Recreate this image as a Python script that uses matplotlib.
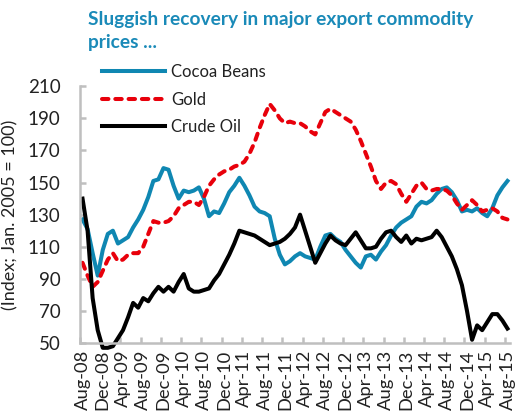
import matplotlib
matplotlib.use("Agg")
import matplotlib.pyplot as plt
import numpy as np

# monthly, Aug-08 .. Aug-15
months = ["Aug-08", "Sep-08", "Oct-08", "Nov-08", "Dec-08", "Jan-09", "Feb-09", "Mar-09", "Apr-09", "May-09",
          "Jun-09", "Jul-09", "Aug-09", "Sep-09", "Oct-09", "Nov-09", "Dec-09", "Jan-10", "Feb-10", "Mar-10",
          "Apr-10", "May-10", "Jun-10", "Jul-10", "Aug-10", "Sep-10", "Oct-10", "Nov-10", "Dec-10", "Jan-11",
          "Feb-11", "Mar-11", "Apr-11", "May-11", "Jun-11", "Jul-11", "Aug-11", "Sep-11", "Oct-11", "Nov-11",
          "Dec-11", "Jan-12", "Feb-12", "Mar-12", "Apr-12", "May-12", "Jun-12", "Jul-12", "Aug-12", "Sep-12",
          "Oct-12", "Nov-12", "Dec-12", "Jan-13", "Feb-13", "Mar-13", "Apr-13", "May-13", "Jun-13", "Jul-13",
          "Aug-13", "Sep-13", "Oct-13", "Nov-13", "Dec-13", "Jan-14", "Feb-14", "Mar-14", "Apr-14", "May-14",
          "Jun-14", "Jul-14", "Aug-14", "Sep-14", "Oct-14", "Nov-14", "Dec-14", "Jan-15", "Feb-15", "Mar-15",
          "Apr-15", "May-15", "Jun-15", "Jul-15", "Aug-15"]

cocoa = [127, 121, 106, 92, 108, 118, 120, 112, 114, 116,
         122, 127, 133, 141, 151, 152, 159, 158, 148, 140,
         145, 144, 145, 147, 140, 129, 132, 131, 137, 144,
         148, 153, 148, 142, 135, 132, 131, 129, 115, 105,
         99, 101, 104, 106, 104, 103, 102, 110, 117, 118,
         115, 113, 108, 104, 100, 97, 104, 105, 102, 107,
         111, 117, 122, 125, 127, 129, 135, 138, 137, 139,
         143, 146, 147, 144, 139, 132, 133, 132, 134, 131,
         129, 134, 142, 147, 151]

gold = [100, 92, 85, 88, 95, 102, 106, 101, 102, 105,
        106, 106, 110, 118, 126, 125, 125, 126, 129, 134,
        136, 138, 138, 136, 141, 148, 152, 155, 157, 158,
        160, 161, 163, 168, 175, 184, 192, 199, 195, 190,
        187, 188, 187, 187, 185, 182, 180, 187, 194, 196,
        194, 192, 190, 188, 183, 176, 168, 160, 151, 146,
        150, 151, 149, 143, 138, 143, 148, 150, 146, 145,
        146, 146, 145, 142, 137, 133, 136, 139, 136, 132,
        133, 134, 132, 128, 127]

crude = [140, 120, 78, 58, 47, 47, 48, 53, 58, 66,
         75, 72, 78, 76, 81, 85, 82, 85, 82, 88,
         93, 84, 82, 82, 83, 84, 89, 93, 99, 105,
         112, 120, 119, 118, 117, 115, 113, 111, 112, 113,
         115, 118, 122, 130, 120, 110, 100, 106, 112, 117,
         114, 112, 111, 115, 119, 114, 109, 109, 110, 115,
         119, 120, 116, 113, 117, 112, 115, 114, 115, 116,
         120, 116, 110, 104, 96, 86, 70, 52, 61, 58,
         63, 68, 68, 64, 59]

blue = "#0f87b2"
grey = "#bfbfbf"
font = "Lato"

x = np.arange(len(months))

fig = plt.figure(figsize=(5.21, 4.19), dpi=100)
ax = fig.add_axes([80 / 521, 1 - 343 / 419, 430 / 521, (343 - 86.3) / 419])

ax.plot(x, cocoa, color=blue, lw=2.9, label="Cocoa Beans", clip_on=False, solid_joinstyle="round")
ax.plot(x, gold, color="#e8000b", lw=2.9, linestyle=(0, (1.6, 1.7)), dash_capstyle="round",
        label="Gold", clip_on=False)
ax.plot(x, crude, color="black", lw=2.9, label="Crude Oil", clip_on=False, solid_joinstyle="round")

ax.set_xlim(-0.5, len(months) - 0.5)
ax.set_ylim(50, 210)
ax.set_yticks(range(50, 211, 20))
ax.set_xticks(x[::4])
ax.set_xticklabels(months[::4], rotation=90)
ax.set_xticks(np.arange(-0.5, len(months), 4), minor=True)

for s in ["top", "right"]:
    ax.spines[s].set_visible(False)
for s in ["left", "bottom"]:
    ax.spines[s].set_color(grey)
    ax.spines[s].set_linewidth(1.8)

ax.tick_params(axis="y", direction="in", length=4, width=1.8, color=grey, pad=14,
               labelsize=13.5, labelcolor="#222222")
ax.tick_params(axis="x", which="major", length=0, pad=5, labelsize=13.2, labelcolor="#222222")
ax.tick_params(axis="x", which="minor", direction="in", length=4, width=1.8, color=grey)
for lab in ax.get_xticklabels() + ax.get_yticklabels():
    lab.set_family(font)

ax.set_ylabel("(Index; Jan. 2005 = 100)", fontsize=13, family=font, color="#222222")
ax.yaxis.set_label_coords(-62 / 430, 0.5)

fig.text(88 / 521, 1 - 11 / 419, "Sluggish recovery in major export commodity\nprices ...",
         ha="left", va="top", fontsize=13.8, fontweight="bold", color="#1a8ab8", family=font,
         linespacing=1.45)

leg = ax.legend(loc="upper left", bbox_to_anchor=(102 / 521, 1 - 64 / 419),
                bbox_transform=fig.transFigure, frameon=False, borderpad=0, borderaxespad=0,
                handlelength=3.8, handletextpad=0.35, labelspacing=0.7,
                prop={"family": font, "size": 12})
for t in leg.get_texts():
    t.set_color("#222222")

fig.savefig("out.png", dpi=100)
